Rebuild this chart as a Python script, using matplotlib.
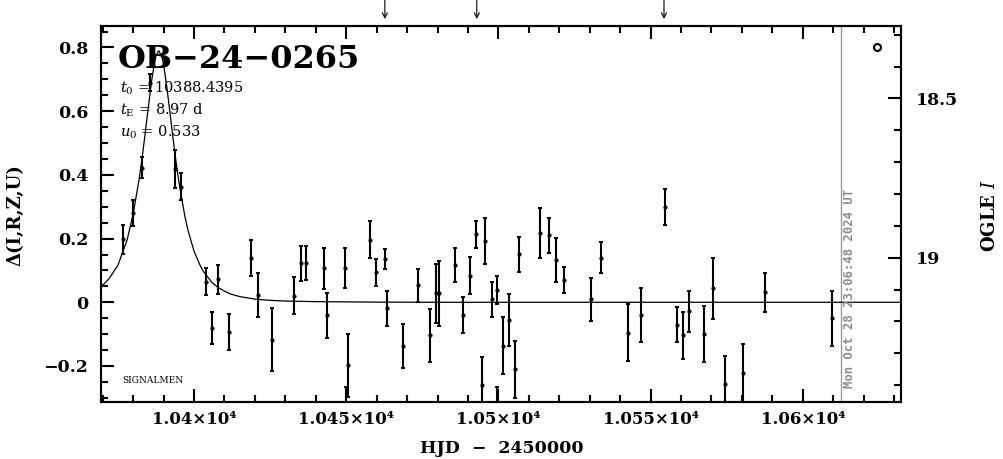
import matplotlib
matplotlib.use("Agg")
import matplotlib.pyplot as plt
from matplotlib.ticker import FixedLocator, MultipleLocator

plt.rcParams["font.family"] = "DejaVu Serif"
plt.rcParams["mathtext.fontset"] = "dejavuserif"

# --- data ---
hjd = [10376.8, 10379.9, 10382.8, 10385.5, 10393.8, 10395.6,
       10403.8, 10405.8, 10407.8, 10411.6, 10418.7, 10420.9, 10425.7,
       10432.9, 10435.0, 10436.8, 10442.7, 10443.8, 10449.6, 10449.8,
       10450.7, 10457.8, 10459.7, 10462.7, 10463.5, 10468.6, 10473.7,
       10477.5, 10479.5, 10480.5, 10485.7, 10488.5, 10490.7, 10492.6,
       10494.5, 10495.6, 10498.0, 10499.6, 10499.7, 10501.6, 10503.6,
       10505.6, 10506.9, 10513.7, 10516.6, 10518.8, 10521.7, 10530.4,
       10533.6, 10542.5, 10546.7, 10554.7, 10558.6, 10560.5, 10562.7,
       10567.6, 10570.6, 10574.4, 10580.5, 10587.6, 10609.5]
delta = [0.198, 0.281, 0.423, 0.690, 0.418, 0.363,
         0.065, -0.080, 0.072, -0.093, 0.139, 0.023, -0.117,
         0.021, 0.122, 0.124, 0.107, -0.041, 0.108, -0.330,
         -0.198, 0.197, 0.094, 0.136, -0.019, -0.137, 0.053,
         -0.104, 0.028, 0.028, 0.117, -0.040, 0.084, 0.213,
         -0.260, 0.193, 0.009, 0.039, -0.330, -0.136, -0.056,
         -0.210, 0.151, 0.218, 0.210, 0.133, 0.071, 0.009,
         0.140, -0.095, -0.040, 0.299, -0.070, -0.104, -0.028,
         -0.100, 0.044, -0.257, -0.221, 0.031, -0.050]
err = [0.045, 0.040, 0.033, 0.027, 0.060, 0.042,
       0.042, 0.051, 0.046, 0.057, 0.057, 0.069, 0.099,
       0.058, 0.055, 0.054, 0.065, 0.071, 0.063, 0.064,
       0.099, 0.058, 0.042, 0.031, 0.054, 0.069, 0.051,
       0.083, 0.093, 0.103, 0.053, 0.057, 0.058, 0.042,
       0.088, 0.073, 0.055, 0.044, 0.064, 0.089, 0.082,
       0.090, 0.055, 0.078, 0.055, 0.069, 0.041, 0.067,
       0.048, 0.089, 0.085, 0.057, 0.055, 0.074, 0.064,
       0.088, 0.096, 0.089, 0.091, 0.061, 0.087]

# model curve (t0 = 10388.4395, tE = 8.97 d, u0 = 0.533)
model_hjd = [10369.3, 10372, 10375, 10378, 10380, 10382, 10383, 10384,
             10385, 10386, 10387, 10387.5, 10388.4, 10389.5, 10390, 10391,
             10392, 10393, 10394, 10395, 10397, 10398, 10400, 10402,
             10403, 10406, 10408, 10410, 10412, 10415, 10420, 10425,
             10430, 10440, 10460, 10480, 10633]
model_delta = [0.047, 0.073, 0.116, 0.195, 0.276, 0.388, 0.457, 0.533,
               0.613, 0.690, 0.752, 0.774, 0.790, 0.769, 0.746, 0.681,
               0.604, 0.524, 0.448, 0.380, 0.270, 0.227, 0.161, 0.116,
               0.098, 0.061, 0.046, 0.035, 0.026, 0.018, 0.010, 0.006,
               0.004, 0.002, 0.0005, 0.0, 0.0]

alert_hjd = [10462.7, 10492.9, 10554.4]
now_hjd = 10612.46
now_label = "Mon Oct 28 23:06:48 2024 UT"

xtick_vals = [10400, 10450, 10500, 10550, 10600]
xtick_labels = ["1.04×10⁴", "1.045×10⁴", "1.05×10⁴", "1.055×10⁴", "1.06×10⁴"]
ytick_vals = [-0.2, 0, 0.2, 0.4, 0.6, 0.8]
ytick_labels = ["−0.2", "0", "0.2", "0.4", "0.6", "0.8"]
mag_ticks = [18.5, 19]
mag_labels = ["18.5", "19"]
I_base = 19.14

xlim = (10369.35, 10632.1)
ylim = (-0.3115, 0.8675)

W, H = 1004, 459
fig = plt.figure(figsize=(W / 100, H / 100), dpi=100)
ax = fig.add_axes([100.7 / W, 1 - 401.5 / H, 799.8 / W, 375.5 / H])

ax.errorbar(hjd, delta, yerr=err, fmt="o", color="k", ms=2.0, elinewidth=1.5,
            capsize=1.3, capthick=1.4, zorder=3)
ax.plot(model_hjd, model_delta, color="k", lw=0.9, zorder=2)

ax.axvline(now_hjd, color="#999999", lw=1.0, zorder=1)
ax.text(now_hjd + 0.9, 0.036, now_label, transform=ax.get_xaxis_transform(),
        rotation=90, ha="left", va="bottom", color="#8c8c8c",
        family="DejaVu Sans Mono", weight="bold", fontsize=8.8)

for t in alert_hjd:
    ax.annotate("", xy=(t, 1.0186), xytext=(t, 1.07),
                xycoords=ax.get_xaxis_transform(), annotation_clip=False,
                arrowprops=dict(arrowstyle="->", lw=0.8, color="k",
                                shrinkA=0, shrinkB=0, mutation_scale=9))

ax.set_xlim(*xlim)
ax.set_ylim(*ylim)

ax.xaxis.set_major_locator(FixedLocator(xtick_vals))
ax.set_xticklabels(xtick_labels, fontweight="bold", fontsize=12)
ax.xaxis.set_minor_locator(MultipleLocator(10))
ax.yaxis.set_major_locator(FixedLocator(ytick_vals))
ax.set_yticklabels(ytick_labels, fontweight="bold", fontsize=12.5)
ax.yaxis.set_minor_locator(MultipleLocator(0.05))

ax.tick_params(which="both", direction="in", top=True, right=False, width=1.5)
ax.tick_params(which="major", length=9.5)
ax.tick_params(which="minor", length=5)
ax.tick_params(axis="y", pad=9)
ax.tick_params(axis="x", pad=7)
for s in ax.spines.values():
    s.set_linewidth(1.5)

# OGLE I magnitude on the right
ax2 = ax.twinx()
ax2.set_ylim(I_base - ylim[0], I_base - ylim[1])
ax2.yaxis.set_major_locator(FixedLocator(mag_ticks))
ax2.set_yticklabels(mag_labels, fontweight="bold", fontsize=12.5)
ax2.yaxis.set_minor_locator(MultipleLocator(0.1))
ax2.tick_params(which="both", direction="in", width=1.5, pad=11)
ax2.tick_params(which="major", length=9.5)
ax2.tick_params(which="minor", length=5)
for s in ax2.spines.values():
    s.set_linewidth(1.5)

ax.plot([0.970], [0.944], "o", transform=ax.transAxes, mfc="white", mec="k",
        ms=5, mew=1.5, clip_on=False)

# labels
ax.text(0.0216, 0.888, "OB−24−0265", transform=ax.transAxes, fontsize=23,
        fontweight="bold", va="baseline", ha="left")
ax.text(0.0241, 0.8216, r"$t_0$ = 10388.4395", transform=ax.transAxes,
        fontsize=10.5, va="baseline")
ax.text(0.0241, 0.7630, r"$t_{\rm E}$ = 8.97 d", transform=ax.transAxes,
        fontsize=10.5, va="baseline")
ax.text(0.0241, 0.7044, r"$u_0$ = 0.533", transform=ax.transAxes,
        fontsize=10.5, va="baseline")
ax.text(0.0266, 0.0493, "SIGNALMEN", transform=ax.transAxes, fontsize=6.5,
        va="baseline")

fig.text(15 / W, 1 - 215 / H, "Δ(I,R,Z,U)", rotation=90, ha="center",
         va="center", fontsize=13, fontweight="bold")
fig.text(990 / W, 1 - 215 / H, r"OGLE $I$", rotation=90, ha="center",
         va="center", fontsize=13, fontweight="bold")
fig.text(501.5 / W, 1 - 448.5 / H, "HJD  −  2450000", ha="center",
         va="center", fontsize=12.5, fontweight="bold")

fig.savefig("out.png", dpi=100)
